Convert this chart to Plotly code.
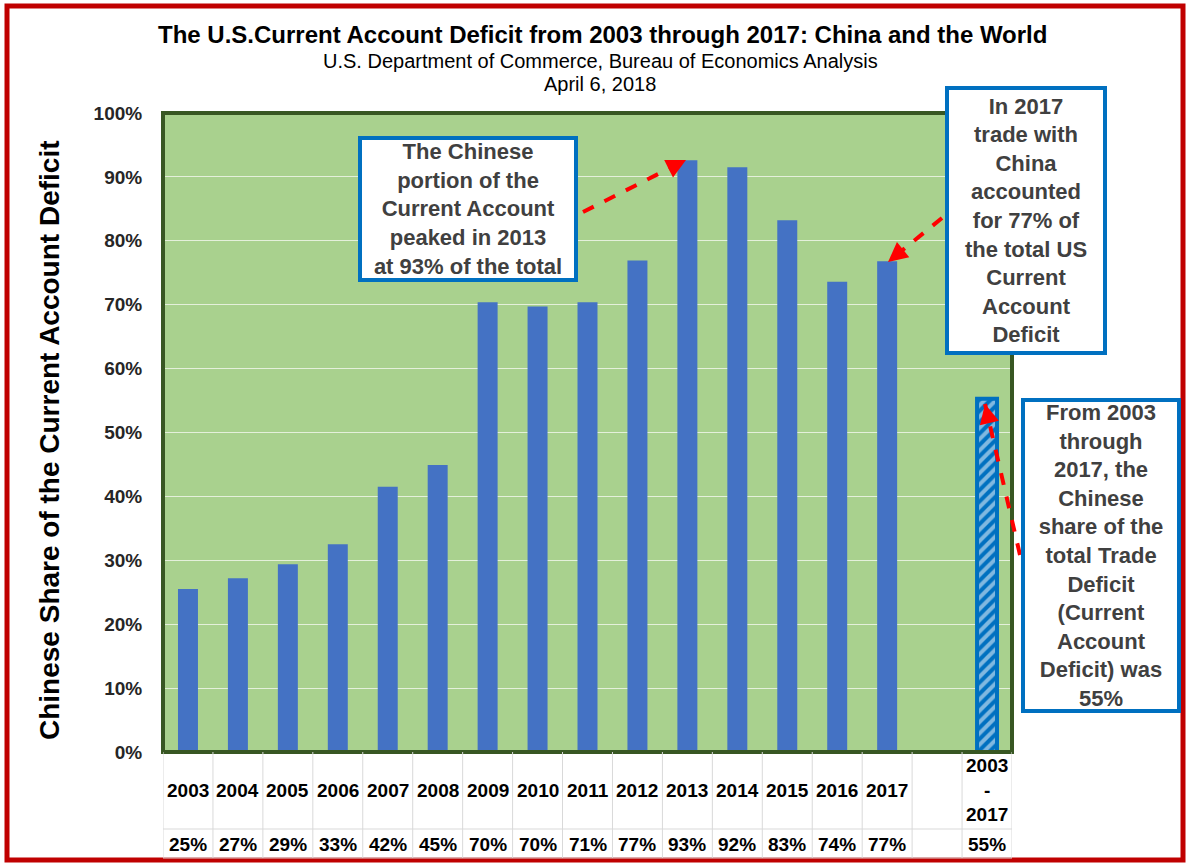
import plotly.graph_objects as go

# ---------------- data ----------------
years = ['2003', '2004', '2005', '2006', '2007', '2008', '2009', '2010',
         '2011', '2012', '2013', '2014', '2015', '2016', '2017']
shares = [0.255, 0.272, 0.294, 0.325, 0.415, 0.449, 0.704, 0.697,
          0.704, 0.769, 0.926, 0.915, 0.832, 0.736, 0.768]
year_labels = ['25%', '27%', '29%', '33%', '42%', '45%', '70%', '70%',
               '71%', '77%', '93%', '92%', '83%', '74%', '77%']
gap_cat = ' '
total_cat = '2003-2017'
total_share = [0.553]
total_label = '55%'
total_tick = '2003<br>-<br>2017'
categories = years + [gap_cat, total_cat]

title = 'The U.S.Current Account Deficit from 2003 through 2017: China and the World'
subtitle1 = 'U.S. Department of Commerce, Bureau of Economics Analysis'
subtitle2 = 'April 6, 2018'
y_title = 'Chinese Share of the Current Account Deficit'
note1 = 'The Chinese<br>portion of the<br>Current Account<br>peaked in 2013<br>at 93% of the total'
note2 = 'In 2017<br>trade with<br>China<br>accounted<br>for 77% of<br>the total US<br>Current<br>Account<br>Deficit'
note3 = ('From 2003<br>through<br>2017, the<br>Chinese<br>share of the<br>total Trade<br>'
         'Deficit<br>(Current<br>Account<br>Deficit) was<br>55%')

# ---------------- geometry helpers ----------------
W, H = 1188, 865
L, R, T, B = 163, 1012, 113, 752
PW, PH = R - L, B - T


def px(xp):
    return (xp - L) / PW


def py(yp):
    return (B - yp) / PH


FONT = 'Liberation Sans, Arial, sans-serif'
BLUE = '#4472C4'
BOXBLUE = '#0070C0'
RED = '#FF0000'

fig = go.Figure()
fig.add_trace(go.Bar(x=years, y=shares, marker=dict(color=BLUE, line=dict(width=0)),
                     width=0.4, hoverinfo='x+y', showlegend=False))
fig.add_trace(go.Bar(x=[gap_cat], y=[None], showlegend=False, hoverinfo='skip'))
fig.add_trace(go.Bar(x=[total_cat], y=total_share, width=0.4,
                     marker=dict(color=BOXBLUE, line=dict(color=BOXBLUE, width=4),
                                 pattern=dict(shape='/', bgcolor=BOXBLUE, fgcolor='white',
                                              size=8, solidity=0.5)),
                     showlegend=False))

shapes = []
# red outer frame
shapes.append(dict(type='rect', xref='paper', yref='paper',
                   x0=px(7), x1=px(1183), y0=py(6), y1=py(860),
                   line=dict(color='#C00000', width=5), layer='above'))
# plot frame
shapes.append(dict(type='rect', xref='paper', yref='paper', x0=0, x1=1, y0=0, y1=1,
                   line=dict(color='#385723', width=4), layer='above'))
# table lines
grid = '#D9D9D9'
sep_y = py(829)
bot_y = py(858)
for i in range(len(categories) + 1):
    shapes.append(dict(type='line', xref='x', yref='paper', x0=i - 0.5, x1=i - 0.5,
                       y0=0, y1=bot_y, line=dict(color=grid, width=1)))
shapes.append(dict(type='line', xref='x', yref='paper', x0=-0.7, x1=len(categories) - 0.5,
                   y0=sep_y, y1=sep_y, line=dict(color=grid, width=1)))
shapes.append(dict(type='line', xref='x', yref='paper', x0=-0.7, x1=len(categories) - 0.5,
                   y0=bot_y, y1=bot_y, line=dict(color=grid, width=1)))
shapes.append(dict(type='line', xref='x', yref='paper', x0=-0.7, x1=-0.7,
                   y0=sep_y, y1=bot_y, line=dict(color=grid, width=1)))

# dashed arrow shafts (pixel tail -> pixel head)
arrows = [((583, 212), (686, 160)), ((942, 218), (888, 262)), ((1020, 555), (985, 404))]
for (tx, ty), (hx, hy) in arrows:
    shapes.append(dict(type='line', xref='paper', yref='paper', x0=px(tx), y0=py(ty),
                       x1=px(hx), y1=py(hy), line=dict(color=RED, width=4, dash='dash'),
                       layer='above'))

annotations = []


def ann(**kw):
    d = dict(showarrow=False, xanchor='center', yanchor='middle')
    d.update(kw)
    annotations.append(d)


# titles
ann(xref='paper', yref='paper', x=px(602), y=py(34), text='<b>' + title + '</b>',
    font=dict(family=FONT, size=24, color='black'))
ann(xref='paper', yref='paper', x=px(600), y=py(61), text=subtitle1,
    font=dict(family=FONT, size=20, color='black'))
ann(xref='paper', yref='paper', x=px(600), y=py(84), text=subtitle2,
    font=dict(family=FONT, size=20, color='black'))
# y axis title
ann(xref='paper', yref='paper', x=px(49), y=py(440), text='<b>' + y_title + '</b>',
    textangle=-90, font=dict(family=FONT, size=28, color='black'))

# table text
tfont = dict(family=FONT, size=19, color='black')
for i, (c, lab) in enumerate(zip(years, year_labels)):
    ann(xref='x', yref='paper', x=i, y=py(790), text='<b>' + c + '</b>', font=tfont)
    ann(xref='x', yref='paper', x=i, y=py(844), text='<b>' + lab + '</b>', font=tfont)
ti = categories.index(total_cat)
ann(xref='x', yref='paper', x=ti, y=py(790), text='<b>' + total_tick + '</b>', font=tfont)
ann(xref='x', yref='paper', x=ti, y=py(844), text='<b>' + total_label + '</b>', font=tfont)

# note boxes
nfont = dict(family=FONT, size=22, color='#404040')
for txt, cx, cy, w, h in [(note1, 468, 209, 208, 134),
                          (note2, 1026, 220, 150, 257),
                          (note3, 1101, 555, 148, 303)]:
    ann(xref='paper', yref='paper', x=px(cx), y=py(cy), text='<b>' + txt + '</b>',
        font=nfont, width=w, height=h, align='center', valign='middle',
        bgcolor='white', bordercolor=BOXBLUE, borderwidth=4, borderpad=2)

# arrow heads
for (tx, ty), (hx, hy) in arrows:
    dx, dy = tx - hx, ty - hy
    n = (dx * dx + dy * dy) ** 0.5
    annotations.append(dict(xref='paper', yref='paper', x=px(hx), y=py(hy), text='',
                            showarrow=True, arrowhead=2, arrowsize=1.3, arrowwidth=3,
                            arrowcolor=RED, ax=dx / n * 14, ay=dy / n * 14, standoff=0))

fig.update_layout(
    width=W, height=H,
    margin=dict(l=L, r=W - R, t=T, b=H - B, pad=0),
    paper_bgcolor='white', plot_bgcolor='#A9D18E',
    barmode='overlay', bargap=0.6,
    shapes=shapes, annotations=annotations,
    xaxis=dict(type='category', categoryorder='array', categoryarray=categories,
               range=[-0.5, len(categories) - 0.5], showticklabels=False, showgrid=False,
               zeroline=False, fixedrange=True),
    yaxis=dict(range=[0, 1], dtick=0.1, tickformat='.0%', showgrid=True,
               gridcolor='#E4F0DA', gridwidth=1, zeroline=False,
               ticks='outside', ticklen=16, tickcolor='rgba(0,0,0,0)',
               tickfont=dict(family=FONT, size=19, color='#262626', weight='bold')),
    font=dict(family=FONT),
)

fig.write_html('out.html')
